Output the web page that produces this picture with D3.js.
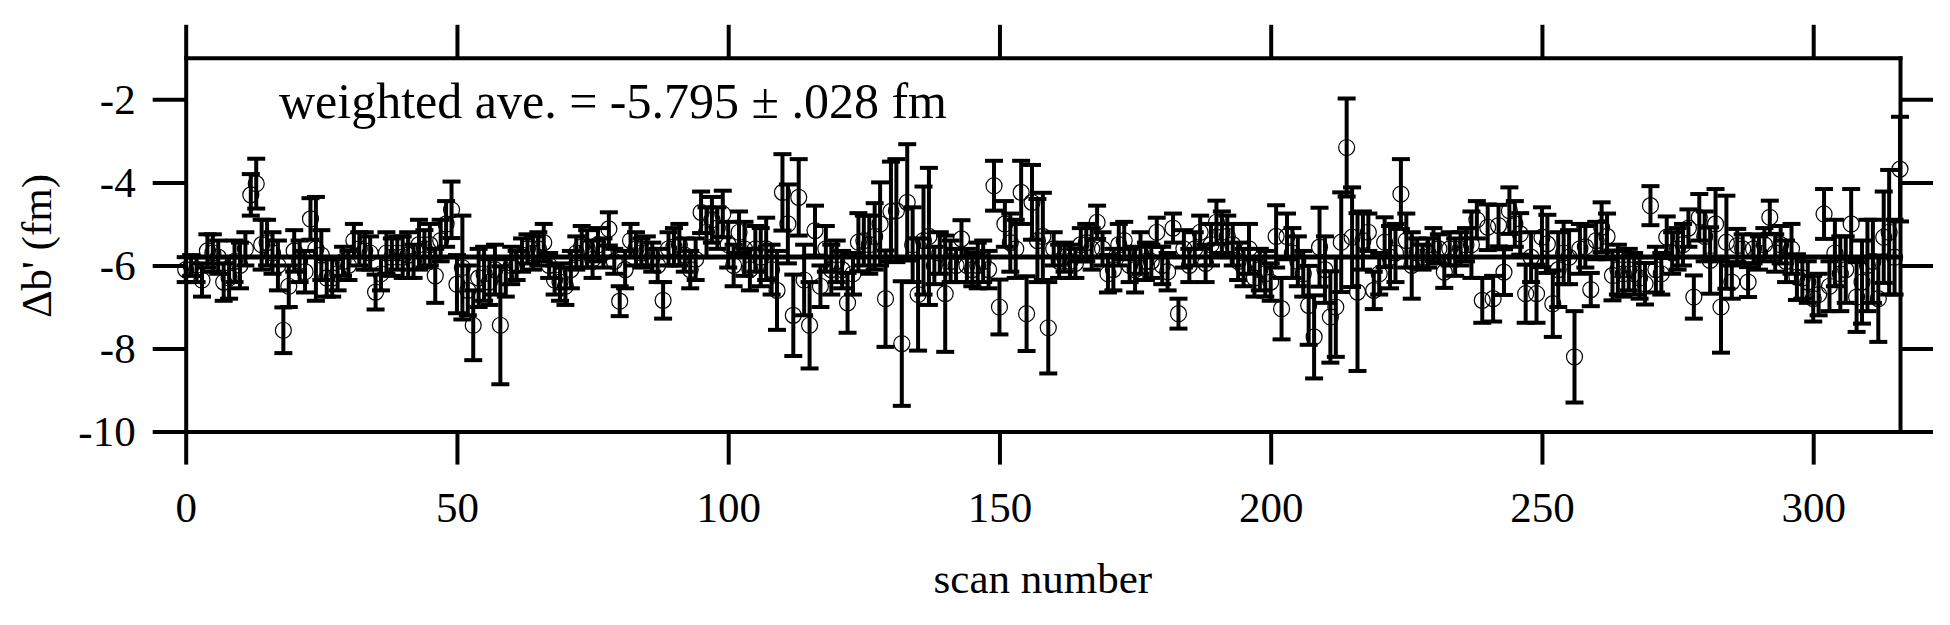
<!DOCTYPE html>
<html>
<head>
<meta charset="utf-8">
<script src="https://cdnjs.cloudflare.com/ajax/libs/d3/7.8.5/d3.min.js"></script>
<style>
  body { margin: 0; background: #fff; }
  .chart text { font-family: "Liberation Serif", "Times New Roman", serif; fill: #000; }
  .axis path, .axis line { stroke: #000; stroke-width: 4; }
  .axis text { font-size: 43px; }
</style>
</head>
<body>
<div class="chart"></div>
<script>
// Data (delta b' per scan, with its error)
var values = [
  -6.10,-6.00,-6.10,-6.35,-5.65,-5.70,-5.80,-6.40,-6.30,-5.90,
  -6.00,-5.60,-4.30,-4.03,-5.50,-5.45,-5.70,-6.00,-7.56,-6.50,
  -5.65,-5.90,-6.15,-4.88,-5.60,-5.75,-6.30,-6.30,-6.20,-5.90,
  -6.00,-5.40,-5.60,-5.65,-5.70,-6.64,-6.20,-5.70,-5.80,-5.70,
  -5.80,-5.75,-5.90,-5.50,-5.60,-5.50,-6.25,-5.40,-5.00,-4.66,
  -6.45,-6.05,-6.60,-7.44,-6.30,-6.20,-6.40,-6.10,-7.44,-6.30,
  -6.00,-6.00,-5.75,-5.60,-5.70,-5.60,-5.45,-6.00,-6.35,-6.40,
  -6.50,-6.10,-5.70,-5.55,-5.60,-5.85,-5.50,-5.70,-5.12,-5.90,
  -6.86,-6.10,-5.40,-5.60,-5.70,-5.65,-5.80,-6.00,-6.84,-5.60,
  -5.55,-5.50,-5.75,-6.10,-5.85,-4.72,-5.20,-4.90,-5.10,-4.76,
  -5.50,-6.00,-5.20,-5.60,-6.10,-5.60,-5.80,-5.60,-6.10,-6.60,
  -4.24,-5.00,-7.20,-4.36,-6.35,-7.44,-5.16,-6.50,-5.60,-6.10,
  -5.90,-6.10,-6.90,-6.20,-5.44,-5.40,-5.50,-5.30,-5.00,-6.80,
  -4.70,-4.68,-7.88,-4.48,-5.50,-6.70,-5.40,-5.30,-6.00,-5.70,
  -6.68,-5.90,-6.00,-5.36,-6.00,-6.10,-6.00,-5.90,-6.10,-4.08,
  -7.00,-5.00,-5.45,-5.60,-4.24,-7.16,-4.48,-5.40,-5.30,-7.50,
  -5.60,-5.90,-5.80,-5.90,-5.95,-5.50,-5.45,-5.60,-4.96,-5.60,
  -6.20,-6.10,-5.50,-5.40,-6.00,-6.10,-5.70,-5.90,-5.90,-5.20,
  -6.00,-6.15,-5.10,-7.16,-5.60,-6.00,-5.60,-5.20,-5.95,-5.50,
  -4.96,-5.20,-5.30,-5.50,-5.90,-6.05,-5.60,-6.30,-6.10,-6.20,
  -6.40,-5.30,-7.04,-5.30,-5.70,-5.90,-6.20,-6.96,-7.72,-5.56,
  -6.10,-7.24,-7.00,-5.44,-3.16,-5.32,-6.64,-5.40,-5.20,-6.60,
  -6.20,-5.44,-5.80,-5.70,-4.28,-5.40,-6.00,-5.70,-5.80,-5.70,
  -5.50,-5.60,-6.16,-5.60,-5.80,-5.60,-5.50,-5.50,-4.90,-6.84,
  -5.08,-6.80,-5.04,-6.16,-4.68,-5.00,-5.24,-6.68,-5.80,-6.68,
  -5.32,-5.48,-6.92,-6.10,-5.70,-5.80,-8.20,-5.60,-5.55,-6.58,
  -5.40,-5.08,-5.30,-6.24,-6.10,-6.20,-6.10,-6.20,-6.30,-6.44,
  -4.56,-6.10,-6.20,-5.32,-5.70,-5.60,-5.50,-5.10,-6.76,-4.84,
  -5.30,-5.88,-5.00,-7.00,-5.44,-6.40,-5.52,-5.60,-6.40,-5.60,
  -5.70,-5.50,-4.84,-5.70,-5.50,-5.90,-5.60,-6.28,-6.30,-6.40,
  -6.80,-6.70,-4.76,-6.50,-5.70,-6.20,-6.10,-5.00,-6.76,-6.40,
  -6.00,-5.90,-6.80,-5.32,-5.20,-5.80,-3.68
];

var errors = [
  0.30,0.25,0.30,0.40,0.40,0.45,0.40,0.45,0.50,0.50,
  0.55,0.40,0.50,0.60,0.60,0.55,0.50,0.60,0.55,0.50,
  0.50,0.50,0.50,0.50,1.25,0.60,0.45,0.45,0.40,0.35,
  0.35,0.40,0.40,0.45,0.40,0.42,0.40,0.50,0.45,0.40,
  0.50,0.55,0.40,0.60,0.45,0.50,0.65,0.50,0.55,0.68,
  0.70,1.25,0.60,0.84,0.70,0.65,0.55,0.60,1.42,0.45,
  0.45,0.35,0.40,0.35,0.40,0.40,0.45,0.30,0.35,0.45,
  0.45,0.45,0.40,0.50,0.45,0.45,0.40,0.35,0.40,0.30,
  0.36,0.45,0.40,0.40,0.35,0.35,0.35,0.40,0.44,0.40,
  0.45,0.50,0.40,0.45,0.50,0.50,0.60,0.55,0.50,0.56,
  0.55,0.50,0.50,0.65,0.50,0.55,0.70,0.75,0.60,0.95,
  0.92,0.95,0.98,0.92,0.85,1.04,0.60,0.50,0.55,0.60,
  0.50,0.45,0.72,0.50,0.70,0.60,0.70,0.80,1.00,1.16,
  1.20,1.24,1.50,1.40,0.90,1.35,1.30,1.65,0.45,0.50,
  1.40,0.50,0.40,0.45,0.40,0.40,0.55,0.50,0.45,0.60,
  0.66,0.55,0.70,0.70,0.76,0.90,0.90,1.00,1.05,1.10,
  0.40,0.40,0.35,0.40,0.35,0.40,0.45,0.50,0.40,0.40,
  0.45,0.50,0.50,0.45,0.40,0.55,0.50,0.45,0.40,0.35,
  0.45,0.45,0.35,0.36,0.45,0.40,0.40,0.40,0.45,0.50,
  0.52,0.50,0.50,0.50,0.45,0.45,0.60,0.45,0.50,0.55,
  0.45,0.75,0.74,0.55,0.60,0.60,0.55,0.95,1.00,0.95,
  0.80,1.10,1.20,1.20,1.18,1.20,1.90,0.70,0.45,0.45,
  0.50,0.60,0.75,0.70,0.84,0.65,0.80,0.35,0.30,0.35,
  0.40,0.35,0.38,0.40,0.45,0.40,0.40,0.80,0.45,0.54,
  0.55,0.55,0.50,0.55,0.56,0.55,0.50,0.70,0.60,0.70,
  0.72,0.70,0.80,0.90,0.75,0.65,1.10,0.60,0.50,0.40,
  0.45,0.60,0.55,0.60,0.60,0.55,0.50,0.50,0.50,0.50,
  0.47,0.55,0.50,0.50,0.50,0.50,0.50,0.45,0.52,0.56,
  0.60,0.80,0.84,1.10,1.12,0.40,0.40,0.35,0.36,0.35,
  0.40,0.40,0.40,0.45,0.45,0.50,0.60,0.55,0.50,0.50,
  0.55,0.50,0.60,0.60,0.80,0.90,0.80,0.84,0.84,1.00,
  1.10,1.00,1.04,1.10,1.50,0.90,1.26
];

var weightedAve = -5.795;
var xTicks = [0, 50, 100, 150, 200, 250, 300];
var yTicks = [-10, -8, -6, -4, -2];
var titleText = "weighted ave. = -5.795 \u00b1 .028 fm";

var svgWidth = 1950;
var svgHeight = 625;

var margin = { top: 57.8, right: 50, bottom: 193.4, left: 185.7 };
var width = svgWidth - margin.left - margin.right;
var height = svgHeight - margin.top - margin.bottom;

var svg = d3.select(".chart")
  .append("svg")
  .attr("width", svgWidth)
  .attr("height", svgHeight);

svg.append("rect").attr("width", svgWidth).attr("height", svgHeight).attr("fill", "#fff");

var chartGroup = svg.append("g")
  .attr("transform", `translate(${margin.left}, ${margin.top})`);

var scanData = values.map(function (v, i) {
  return { scan: i, value: v, err: errors[i] };
});

// scales
var xScale = d3.scaleLinear().domain([0, 316]).range([0, width]);
var yScale = d3.scaleLinear().domain([-10, -1]).range([height, 0]);

// error bars
var capHalf = 9;
var bars = chartGroup.append("g")
  .attr("stroke", "#000")
  .attr("stroke-width", 4);

bars.selectAll("line.bar")
  .data(scanData)
  .enter()
  .append("line")
  .attr("class", "bar")
  .attr("x1", d => xScale(d.scan))
  .attr("x2", d => xScale(d.scan))
  .attr("y1", d => yScale(d.value + d.err))
  .attr("y2", d => yScale(d.value - d.err));

bars.selectAll("line.capTop")
  .data(scanData)
  .enter()
  .append("line")
  .attr("class", "capTop")
  .attr("x1", d => xScale(d.scan) - capHalf)
  .attr("x2", d => xScale(d.scan) + capHalf)
  .attr("y1", d => yScale(d.value + d.err))
  .attr("y2", d => yScale(d.value + d.err));

bars.selectAll("line.capBot")
  .data(scanData)
  .enter()
  .append("line")
  .attr("class", "capBot")
  .attr("x1", d => xScale(d.scan) - capHalf)
  .attr("x2", d => xScale(d.scan) + capHalf)
  .attr("y1", d => yScale(d.value - d.err))
  .attr("y2", d => yScale(d.value - d.err));

// weighted average line
chartGroup.append("line")
  .attr("x1", xScale(0))
  .attr("x2", xScale(316))
  .attr("y1", yScale(weightedAve))
  .attr("y2", yScale(weightedAve))
  .attr("stroke", "#000")
  .attr("stroke-width", 5);

// open circles
chartGroup.selectAll("circle")
  .data(scanData)
  .enter()
  .append("circle")
  .attr("cx", d => xScale(d.scan))
  .attr("cy", d => yScale(d.value))
  .attr("r", 8)
  .attr("fill", "none")
  .attr("stroke", "#000")
  .attr("stroke-width", 1.2);

// axes on all four sides, ticks pointing out (plain hyphen for negatives)
var plain = d => String(d);
var bottomAxis = d3.axisBottom(xScale).tickValues(xTicks).tickSize(33).tickSizeOuter(0).tickPadding(27).tickFormat(plain);
var topAxis = d3.axisTop(xScale).tickValues(xTicks).tickSize(33).tickSizeOuter(0).tickFormat("");
var leftAxis = d3.axisLeft(yScale).tickValues(yTicks).tickSize(33).tickSizeOuter(0).tickPadding(17).tickFormat(plain);
var rightAxis = d3.axisRight(yScale).tickValues(yTicks).tickSize(33).tickSizeOuter(0).tickFormat("");

chartGroup.append("g").attr("class", "axis")
  .attr("transform", `translate(0, ${height})`)
  .call(bottomAxis);
chartGroup.append("g").attr("class", "axis").call(topAxis);
chartGroup.append("g").attr("class", "axis").call(leftAxis);
chartGroup.append("g").attr("class", "axis")
  .attr("transform", `translate(${width}, 0)`)
  .call(rightAxis);

chartGroup.selectAll(".axis path").attr("stroke-linecap", "square");
chartGroup.selectAll(".axis text").attr("font-family", null);

// texts
chartGroup.append("text")
  .attr("x", 279 - margin.left)
  .attr("y", 117.6 - margin.top)
  .attr("font-size", "50px")
  .text(titleText);

svg.append("text")
  .attr("transform", "translate(51, 246) rotate(-90)")
  .attr("text-anchor", "middle")
  .attr("font-size", "43px")
  .text("\u0394b' (fm)");

svg.append("text")
  .attr("x", margin.left + width / 2)
  .attr("y", 593)
  .attr("text-anchor", "middle")
  .attr("font-size", "43px")
  .text("scan number");
</script>
</body>
</html>
